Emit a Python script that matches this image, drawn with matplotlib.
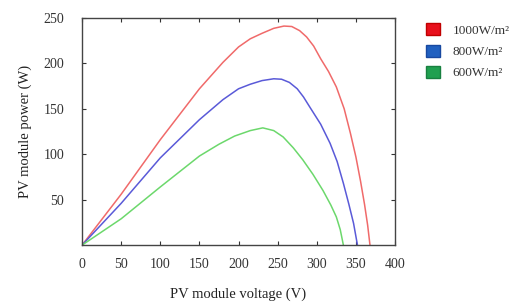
import matplotlib.pyplot as plt
from matplotlib.patches import Patch

plt.rcParams['font.family'] = ['Liberation Serif', 'DejaVu Serif']

# irradiance levels
labels = ['1000W/m²', '800W/m²', '600W/m²']

v_1000 = [0, 50, 100, 150, 180, 200, 215, 230, 245, 258, 268, 278, 287, 296,
          305, 315, 325, 335, 343, 350, 356, 361, 365, 368]
p_1000 = [0, 56, 116, 172, 201, 218, 227, 233, 238.5, 241, 240.5, 236, 229, 219,
          205, 191, 174, 150, 123, 97, 70, 45, 22, 0]

v_800 = [0, 50, 100, 150, 180, 200, 215, 230, 245, 255, 265, 275, 283, 291,
         305, 317, 326, 334, 341, 347, 352]
p_800 = [0, 46, 96, 138, 160, 172, 177, 181, 183, 182.5, 179, 172, 163, 152,
         133, 112, 92, 68, 45, 24, 0]

v_600 = [0, 50, 100, 150, 175, 195, 215, 231, 245, 257, 270, 282, 295, 308,
         318, 325, 330, 334]
p_600 = [0, 29, 64, 98, 111, 120, 126, 129, 126, 119, 107, 94, 78, 60,
         44, 31, 17, 0]

xticks = [0, 50, 100, 150, 200, 250, 300, 350, 400]
yticks = [50, 100, 150, 200, 250]

fig = plt.figure(figsize=(5.26, 3.03), dpi=100)
ax = fig.add_axes([0.156, 0.191, 0.595, 0.75])

ax.plot(v_1000, p_1000, color='#f06a6a', lw=1.1)
ax.plot(v_800, p_800, color='#5a5ad8', lw=1.1)
ax.plot(v_600, p_600, color='#6cd86c', lw=1.1)

ax.set_xlim(0, 400)
ax.set_ylim(0, 250)
ax.set_xticks(xticks)
ax.set_yticks(yticks)
ax.tick_params(direction='in', top=True, right=True, labelsize=10,
               colors='#333333', length=3)
ax.tick_params(axis='x', pad=9)
ax.tick_params(axis='y', pad=13)
for s in ax.spines.values():
    s.set_color('#444444')
    s.set_linewidth(1.0)

ax.set_xlabel('PV module voltage (V)', fontsize=10.5, color='#222222', labelpad=12)
ax.set_ylabel('PV module power (W)', fontsize=10.5, color='#222222', labelpad=8)

handles = [Patch(facecolor='#e8101c', edgecolor='#c00000'),
           Patch(facecolor='#2060c0', edgecolor='#1848a0'),
           Patch(facecolor='#20a050', edgecolor='#188040')]
fig.legend(handles, labels, loc='upper left', bbox_to_anchor=(0.788, 0.962),
           frameon=False, fontsize=9.5, handlelength=1.0, handleheight=1.0,
           labelspacing=0.6, handletextpad=1.0, labelcolor='#333333')

fig.savefig('out.png', dpi=100)
